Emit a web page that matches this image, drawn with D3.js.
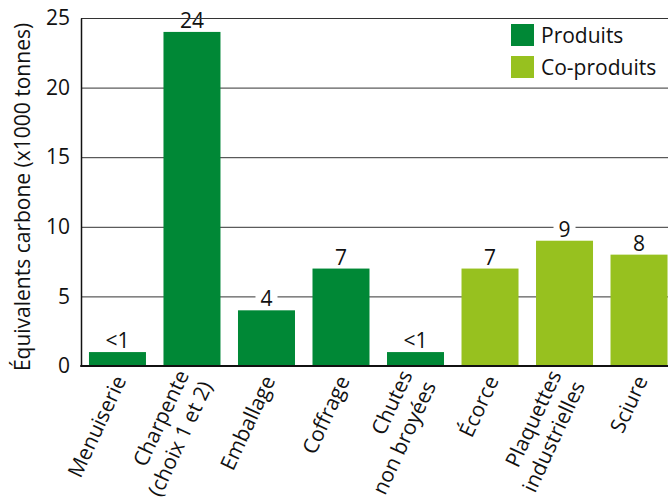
<!DOCTYPE html>
<html>
<head>
<meta charset="utf-8">
<script src="https://cdn.jsdelivr.net/npm/d3@7"></script>
<style>
  html, body { margin: 0; padding: 0; background: #fff; }
  svg { display: block; font-family: "Open Sans", "Noto Sans", sans-serif; }
</style>
</head>
<body>
<svg id="chart" width="668" height="502"></svg>
<script>
const categories = ["Menuiserie", "Charpente\n(choix 1 et 2)", "Emballage", "Coffrage", "Chutes\nnon broyées", "Écorce", "Plaquettes\nindustrielles", "Sciure"];
const values = [1, 24, 4, 7, 1, 7, 9, 8];
const valueLabels = ["<1", "24", "4", "7", "<1", "7", "9", "8"];
const groups = ["Produits", "Produits", "Produits", "Produits", "Produits", "Co-produits", "Co-produits", "Co-produits"];
const seriesNames = ["Produits", "Co-produits"];
const yTicks = [0, 5, 10, 15, 20, 25];
const yTitle = "Équivalents carbone (x1000 tonnes)";

const colors = { "Produits": "#008836", "Co-produits": "#97c11f" };
const FS = 21;

const svg = d3.select("#chart");
const pLeft = 81, pTop = 18, pBottom = 366, pRight = 668;

const x = d3.scaleBand().domain(categories).range([pLeft, 675.5]).paddingInner(0.235).paddingOuter(0.107);
const y = d3.scaleLinear().domain([0, 25]).range([pBottom, pTop]);

// gridlines
svg.append("g").selectAll("line").data(yTicks.filter(t => t > 0 && t < 25)).join("line")
  .attr("x1", pLeft).attr("x2", pRight)
  .attr("y1", d => y(d) + 0.5).attr("y2", d => y(d) + 0.5)
  .attr("stroke", "#333").attr("stroke-width", 1);

// bars
svg.append("g").selectAll("rect").data(categories).join("rect")
  .attr("x", d => x(d))
  .attr("width", x.bandwidth())
  .attr("y", (d, i) => y(values[i]))
  .attr("height", (d, i) => y(0) - y(values[i]))
  .attr("fill", (d, i) => colors[groups[i]]);

// value labels with white background
const vl = svg.append("g").selectAll("g").data(categories).join("g");
vl.each(function(d, i) {
  const g = d3.select(this);
  const t = g.append("text")
    .attr("x", x(d) + x.bandwidth() / 2)
    .attr("y", y(values[i]) - 4)
    .attr("text-anchor", "middle")
    .attr("font-size", FS)
    .attr("fill", "#111")
    .text(valueLabels[i]);
  const bb = t.node().getBBox();
  g.insert("rect", "text")
    .attr("x", bb.x - 5).attr("y", bb.y + 3)
    .attr("width", bb.width + 10).attr("height", bb.height - 6)
    .attr("fill", "#fff");
});

// top gridline (frame)
svg.append("line").attr("x1", pLeft).attr("x2", pRight)
  .attr("y1", y(25) + 0.5).attr("y2", y(25) + 0.5)
  .attr("stroke", "#333").attr("stroke-width", 1);

// y axis
const yAxis = d3.axisLeft(y).tickValues(yTicks).tickSize(0).tickPadding(11).tickFormat(d3.format("d"));
const ya = svg.append("g").attr("transform", `translate(${pLeft},0)`).call(yAxis);
ya.select(".domain").attr("stroke", "#111").attr("stroke-width", 1.5);
ya.selectAll("text").attr("font-size", FS).attr("fill", "#111").attr("font-family", "Open Sans, sans-serif");

// baseline
svg.append("line").attr("x1", pLeft - 0.75).attr("x2", pRight)
  .attr("y1", pBottom).attr("y2", pBottom)
  .attr("stroke", "#111").attr("stroke-width", 2);

// x labels
const L = 26;
const xl = svg.append("g").selectAll("g").data(categories).join("g")
  .attr("transform", d => `translate(${x(d) + x.bandwidth() / 2 + 2.5},377) rotate(-65)`);
xl.each(function(d) {
  const lines = d.split("\n");
  const g = d3.select(this);
  lines.forEach((ln, j) => {
    g.append("text")
      .attr("x", 0)
      .attr("y", (j - (lines.length - 1) / 2) * L)
      .attr("dy", "0.35em")
      .attr("text-anchor", "end")
      .attr("font-size", FS)
      .attr("fill", "#111")
      .text(ln);
  });
});

// y title
svg.append("text")
  .attr("transform", `translate(30,197) rotate(-90)`)
  .attr("text-anchor", "middle")
  .attr("font-size", FS)
  .attr("fill", "#111")
  .text(yTitle);

// legend
const lg = svg.append("g").selectAll("g").data(seriesNames).join("g")
  .attr("transform", (d, i) => `translate(511,${24 + i * 32})`);
lg.append("rect").attr("width", 23).attr("height", 22).attr("fill", d => colors[d]);
lg.append("text").attr("x", 30).attr("y", 19).attr("font-size", FS).attr("fill", "#111").text(d => d);
</script>
</body>
</html>
